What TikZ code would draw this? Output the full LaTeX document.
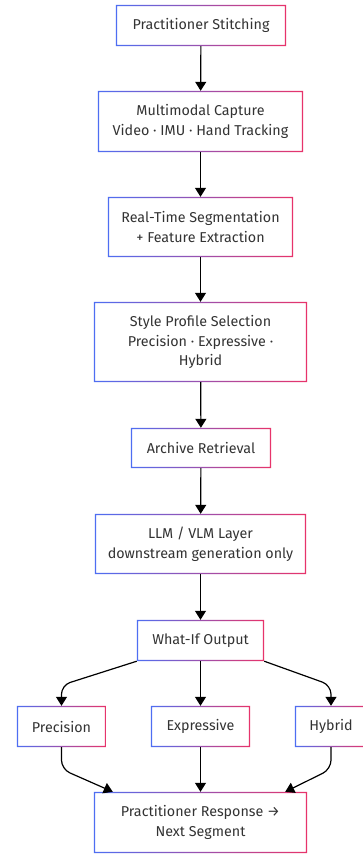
\documentclass[tikz,border=0pt]{standalone}
\usepackage{fontspec}
\setmainfont{Fira Sans}
\usetikzlibrary{arrows.meta,calc}
\definecolor{gblue}{RGB}{78,110,242}
\definecolor{gpink}{RGB}{232,51,106}
\definecolor{txt}{RGB}{51,51,51}
\tikzset{
  box/.style={draw=none, fill=white, align=center, inner sep=0pt, text=txt,
    font=\fontsize{14.3}{19.5}\selectfont},
  arr/.style={draw=black, line width=1.2pt, -{Triangle[width=11pt,length=9pt]}},
}
\newcommand{\gborder}[1]{%
  \shade[left color=gblue, right color=gpink, even odd rule]
    (#1.north west) rectangle (#1.south east)
    ($(#1.north west)+(1.4,1.4)$) rectangle ($(#1.south east)+(-1.4,-1.4)$);}
\begin{document}
\begin{tikzpicture}[x=1pt,y=-1pt]
\useasboundingbox (0,0) rectangle (363,856);
\fill[white] (0,0) rectangle (363,856);
\node[box, minimum width=170, minimum height=41] (ps) at (201,25.5) {Practitioner Stitching};
\node[box, minimum width=205, minimum height=61] (mc) at (200.5,121.5) {Multimodal Capture\\Video · IMU · Hand Tracking};
\node[box, minimum width=185, minimum height=60] (rt) at (200.5,227) {Real-Time Segmentation\\+ Feature Extraction};
\node[box, minimum width=213, minimum height=80] (sp) at (200.5,342) {Style Profile Selection\\Precision · Expressive ·\\Hybrid};
\node[box, minimum width=140, minimum height=40] (ar) at (201,448) {Archive Retrieval};
\node[box, minimum width=211, minimum height=60] (ll) at (200.5,544) {LLM / VLM Layer\\downstream generation only};
\node[box, minimum width=127, minimum height=41] (wi) at (200.5,640.5) {What-If Output};
\node[box, minimum width=89, minimum height=41] (pr) at (61.5,726.5) {Precision};
\node[box, minimum width=99, minimum height=41] (ex) at (200.5,726.5) {Expressive};
\node[box, minimum width=72, minimum height=41] (hy) at (331,726.5) {Hybrid};
\node[box, minimum width=213, minimum height=61] (re) at (200.5,822.5) {Practitioner Response →\\Next Segment};
\foreach \n in {ps,mc,rt,sp,ar,ll,wi,pr,ex,hy,re} {\gborder{\n}}
\draw[arr] (ps) -- (mc);
\draw[arr] (mc) -- (rt);
\draw[arr] (rt) -- (sp);
\draw[arr] (sp) -- (ar);
\draw[arr] (ar) -- (ll);
\draw[arr] (ll) -- (wi);
\draw[arr] (wi) -- (ex);
\draw[arr] (ex) -- (re);
\draw[arr, rounded corners=9] (wi.south west) -- ($(pr.north |- wi.south)+(0,24)$) -- (pr.north);
\draw[arr, rounded corners=9] (wi.south east) -- ($(hy.north |- wi.south)+(0,24)$) -- (hy.north);
\draw[arr, rounded corners=9] (pr.south) -- ($(pr.south)+(0,22)$) -- ($(re.north west)+(19,0)$);
\draw[arr, rounded corners=9] (hy.south) -- ($(hy.south)+(0,22)$) -- ($(re.north east)+(-22,0)$);
\end{tikzpicture}
\end{document}
